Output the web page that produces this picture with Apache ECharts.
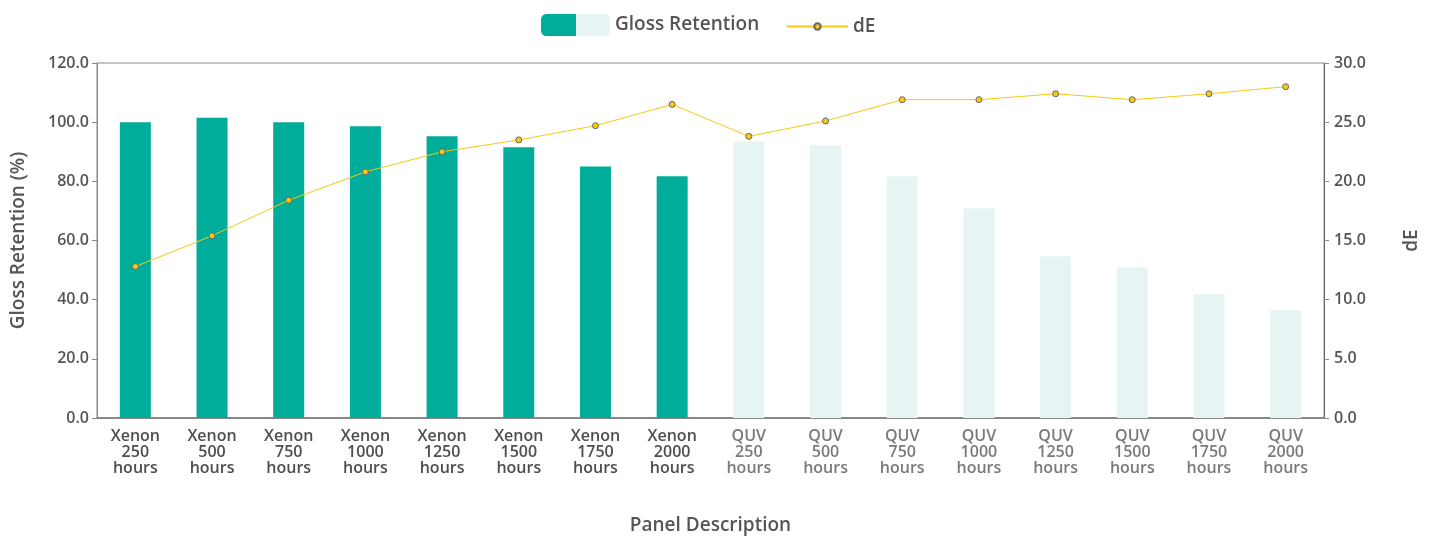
<!DOCTYPE html>
<html>
<head>
<meta charset="utf-8">
<script src="https://cdn.jsdelivr.net/npm/echarts@6/dist/echarts.min.js"></script>
<style>
  html, body { margin: 0; padding: 0; background: #fff; }
  #chart { width: 1430px; height: 537px; }
</style>
</head>
<body>
<div id="chart"></div>
<script>
// chart data
const categories = [
  'Xenon\n250\nhours', 'Xenon\n500\nhours', 'Xenon\n750\nhours', 'Xenon\n1000\nhours',
  'Xenon\n1250\nhours', 'Xenon\n1500\nhours', 'Xenon\n1750\nhours', 'Xenon\n2000\nhours',
  'QUV\n250\nhours', 'QUV\n500\nhours', 'QUV\n750\nhours', 'QUV\n1000\nhours',
  'QUV\n1250\nhours', 'QUV\n1500\nhours', 'QUV\n1750\nhours', 'QUV\n2000\nhours'
];
const glossRetention = [100.0, 101.5, 100.0, 98.6, 95.2, 91.5, 85.0, 81.7,
                        93.5, 92.2, 81.7, 70.9, 54.7, 50.9, 41.8, 36.4];
const dE = [12.8, 15.4, 18.4, 20.8, 22.5, 23.5, 24.7, 26.5,
            23.8, 25.1, 26.9, 26.9, 27.4, 26.9, 27.4, 28.0];
const leftTicks = [0, 20, 40, 60, 80, 100, 120];
const rightTicks = [0, 5, 10, 15, 20, 25, 30];

const TEAL = '#00ad9a';
const PALE = '#e7f4f4';
const GOLD = '#f7c815';
const FONT = '"Open Sans", "Noto Sans", sans-serif';
const isXenon = (i) => i < 8;

const chart = echarts.init(document.getElementById('chart'));

const option = {
  animation: false,
  textStyle: { fontFamily: FONT },
  legend: [
    {
      data: ['Gloss Retention'],
      left: 536, top: 9,
      itemWidth: 69, itemHeight: 22, itemGap: 8,
      textStyle: { fontFamily: FONT, fontSize: 19, fontWeight: 600, color: '#555' },
      itemStyle: {
        color: {
          type: 'linear', x: 0, y: 0, x2: 1, y2: 0,
          colorStops: [
            { offset: 0, color: TEAL }, { offset: 0.5, color: TEAL },
            { offset: 0.5, color: PALE }, { offset: 1, color: PALE }
          ]
        }
      }
    },
    {
      data: ['dE'],
      left: 781, top: 12,
      itemWidth: 61, itemHeight: 8, itemGap: 6,
      textStyle: { fontFamily: FONT, fontSize: 19, fontWeight: 600, color: '#555' }
    }
  ],
  grid: {
    left: 97, right: 106, top: 63, bottom: 119,
    outerBoundsMode: 'none',
    containLabel: false,
    show: true, borderColor: '#888', borderWidth: 1
  },
  xAxis: {
    type: 'category',
    data: categories,
    name: 'Panel Description',
    nameLocation: 'middle',
    nameGap: 98,
    nameTextStyle: { fontFamily: FONT, fontSize: 19, fontWeight: 600, color: '#555' },
    axisLine: { lineStyle: { color: '#888', width: 2 } },
    axisTick: { length: 7, lineStyle: { color: '#666' } },
    axisLabel: {
      interval: 0,
      margin: 10,
      fontFamily: FONT, fontSize: 16, fontWeight: 600, lineHeight: 16,
      color: (value, index) => (isXenon(index) ? '#4e4e4e' : '#7a7a7a')
    }
  },
  yAxis: [
    {
      type: 'value',
      min: leftTicks[0], max: leftTicks[leftTicks.length - 1], interval: 20,
      name: 'Gloss Retention (%)',
      nameLocation: 'middle',
      nameGap: 69,
      nameTextStyle: { fontFamily: FONT, fontSize: 19, fontWeight: 600, color: '#555' },
      axisLine: { show: true, lineStyle: { color: '#888', width: 1 } },
      axisTick: { show: true, length: 5, lineStyle: { color: '#888' } },
      splitLine: { show: false },
      axisLabel: {
        margin: 8,
        fontFamily: FONT, fontSize: 16, fontWeight: 600, color: '#555',
        formatter: (v) => v.toFixed(1)
      }
    },
    {
      type: 'value',
      min: rightTicks[0], max: rightTicks[rightTicks.length - 1], interval: 5,
      name: 'dE',
      nameLocation: 'middle',
      nameGap: 78,
      nameRotate: 90,
      nameTextStyle: { fontFamily: FONT, fontSize: 19, fontWeight: 600, color: '#555' },
      axisLine: { show: true, lineStyle: { color: '#666', width: 1 } },
      axisTick: { show: true, length: 5, lineStyle: { color: '#888' } },
      splitLine: { show: false },
      axisLabel: {
        margin: 10,
        fontFamily: FONT, fontSize: 16, fontWeight: 600, color: '#555',
        formatter: (v) => v.toFixed(1)
      }
    }
  ],
  series: [
    {
      name: 'Gloss Retention',
      type: 'bar',
      yAxisIndex: 0,
      barWidth: 31,
      data: glossRetention,
      itemStyle: { color: (p) => (isXenon(p.dataIndex) ? TEAL : PALE) }
    },
    {
      name: 'dE',
      type: 'line',
      yAxisIndex: 1,
      data: dE,
      symbol: 'circle',
      symbolSize: 6,
      lineStyle: { color: GOLD, width: 1 },
      itemStyle: { color: GOLD, borderColor: '#666', borderWidth: 1 }
    }
  ]
};

chart.setOption(option);
</script>
</body>
</html>
